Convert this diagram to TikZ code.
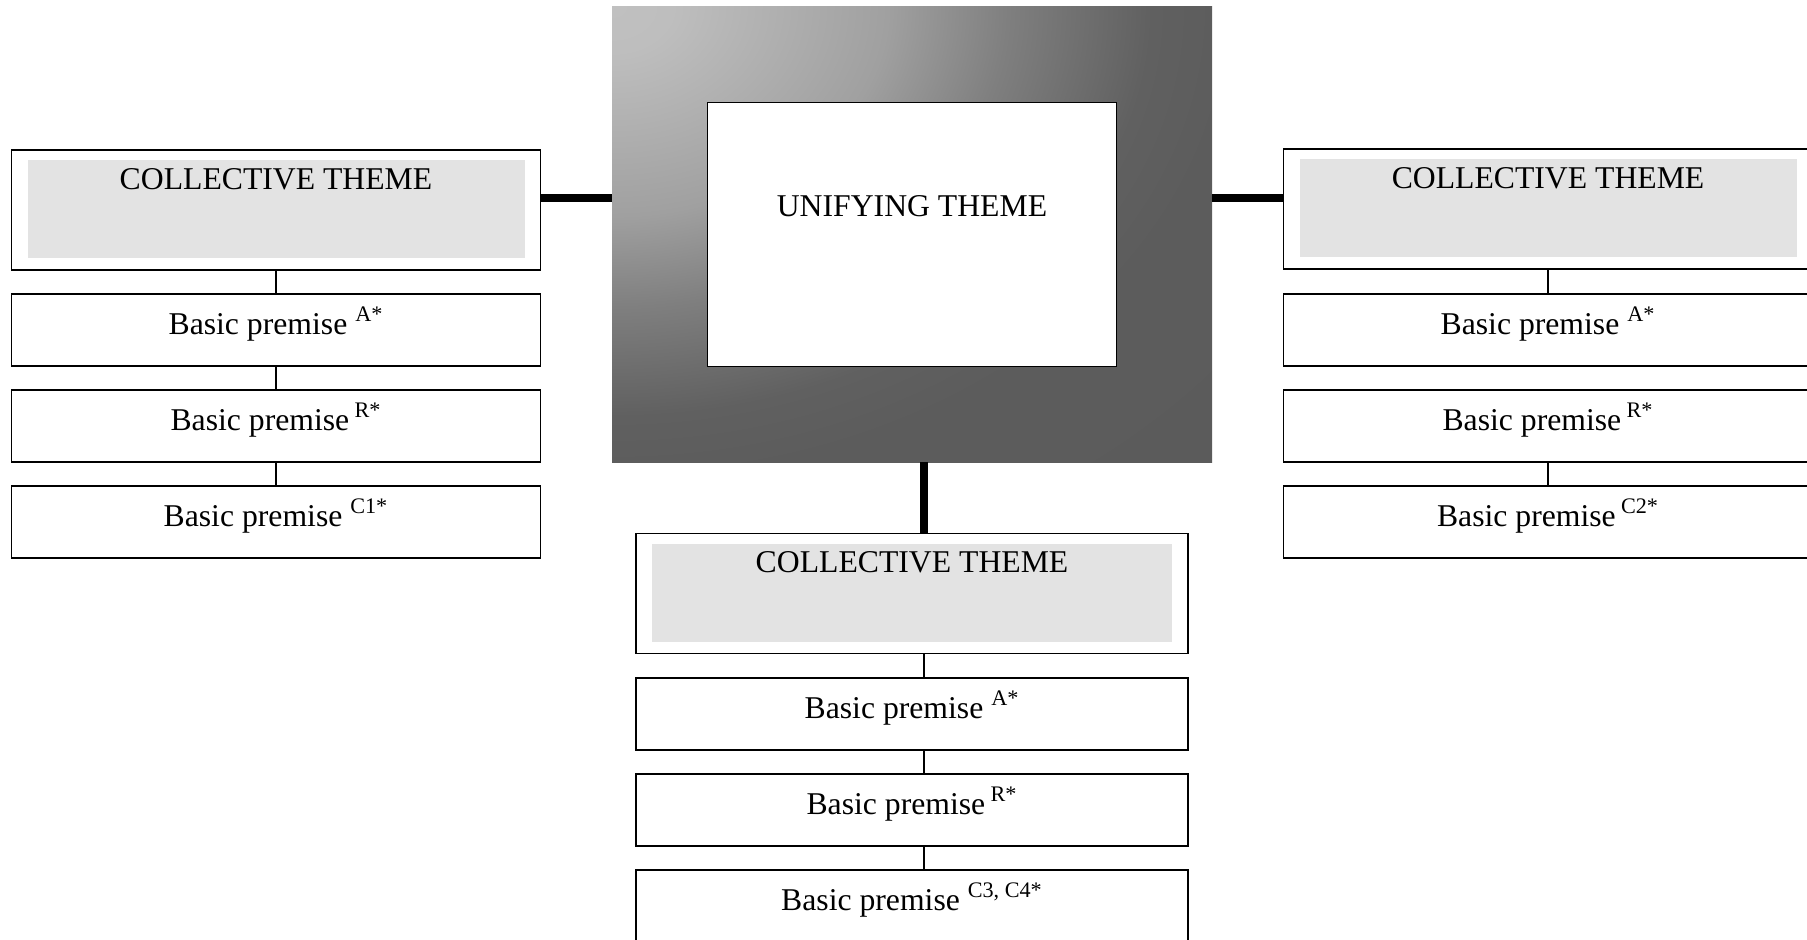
\documentclass[tikz,border=0pt]{standalone}
\usepackage{fontspec}
\setmainfont{Liberation Serif}
\definecolor{gr0}{HTML}{C0C0C0}
\definecolor{gr1}{HTML}{BEBEBE}
\definecolor{gr2}{HTML}{A0A0A0}
\definecolor{gr3}{HTML}{7F7F7F}
\definecolor{gr4}{HTML}{606060}
\definecolor{gr5}{HTML}{5C5C5C}
\definecolor{gr6}{HTML}{5A5A5A}
\definecolor{colgrey}{HTML}{E3E3E3}
\pgfdeclareradialshading{cornerglow}{\pgfpoint{0bp}{0bp}}{color(0bp)=(gr0); color(2.5bp)=(gr1); color(11.5bp)=(gr2); color(16.5bp)=(gr3); color(22.5bp)=(gr4); color(26bp)=(gr5); color(50bp)=(gr6)}
\begin{document}
\begin{tikzpicture}[x=0.5pt,y=-0.5pt,
  every node/.style={font=\fontsize{15.85pt}{19pt}\selectfont},
  box/.style={draw, line width=0.9pt, fill=white, inner sep=0pt, outer sep=0pt,
    minimum width=264.5pt, minimum height=36pt, text height=11pt, text depth=7pt},
  colbox/.style={draw, line width=0.9pt, fill=white, inner sep=0pt, outer sep=0pt,
    minimum width=264.5pt, minimum height=60pt, text height=10pt, text depth=31pt,
    path picture={\fill[colgrey] ([xshift=8pt,yshift=-5pt]path picture bounding box.north west) rectangle ([xshift=-8pt,yshift=6pt]path picture bounding box.south east);}},
  widebox/.style={box, minimum width=276pt},
  widecol/.style={colbox, minimum width=276pt},
  link/.style={line width=0.9pt},
  bar/.style={line width=4pt}
]
\useasboundingbox (0,0) rectangle (1807,939);

% central unifying theme
\node[inner sep=0pt, outer sep=0pt, minimum width=300pt, minimum height=228pt,
  path picture={\shade[shading=cornerglow] ([xshift=-300pt,yshift=228pt]path picture bounding box.north west) rectangle ([xshift=300pt,yshift=-228pt]path picture bounding box.north west);}] (G) at (912,234) {};
\node[draw, line width=0.9pt, fill=white, inner sep=0pt, outer sep=0pt,
  minimum width=204.5pt, minimum height=132pt, text height=10pt, text depth=27.8pt] (U) at (912,234.5) {UNIFYING THEME};

% left column
\node[colbox] (L0) at (276,210) {COLLECTIVE THEME};
\node[box] (L1) at (276,330) {Basic premise \textsuperscript{A*}};
\node[box] (L2) at (276,426) {Basic premise\,\textsuperscript{R*}};
\node[box] (L3) at (276,522) {Basic premise \textsuperscript{C1*}};

% right column
\node[colbox] (R0) at (1548,209) {COLLECTIVE THEME};
\node[box] (R1) at (1548,330) {Basic premise \textsuperscript{A*}};
\node[box] (R2) at (1548,426) {Basic premise\,\textsuperscript{R*}};
\node[box] (R3) at (1548,522) {Basic premise\,\textsuperscript{C2*}};

% bottom column
\node[widecol] (B0) at (912,593.5) {COLLECTIVE THEME};
\node[widebox] (B1) at (912,714) {Basic premise \textsuperscript{A*}};
\node[widebox] (B2) at (912,810) {Basic premise\,\textsuperscript{R*}};
\node[widebox] (B3) at (912,906) {Basic premise \textsuperscript{C3, C4*}};

% thick connectors
\draw[bar] ([yshift=6pt]L0.east) -- ([yshift=6pt]L0.east -| G.west);
\draw[bar] ([yshift=5.5pt]R0.west) -- ([yshift=5.5pt]R0.west -| G.east);
\draw[bar] ([xshift=6pt]G.south) -- ([xshift=6pt]G.south |- B0.north);

% thin connectors
\draw[link] (L0.south) -- (L1.north);
\draw[link] (L1.south) -- (L2.north);
\draw[link] (L2.south) -- (L3.north);
\draw[link] (R0.south) -- (R1.north);
\draw[link] (R2.south) -- (R3.north);
\draw[link] ([xshift=6pt]B0.south) -- ([xshift=6pt]B1.north);
\draw[link] ([xshift=6pt]B1.south) -- ([xshift=6pt]B2.north);
\draw[link] ([xshift=6pt]B2.south) -- ([xshift=6pt]B3.north);
\end{tikzpicture}
\end{document}
